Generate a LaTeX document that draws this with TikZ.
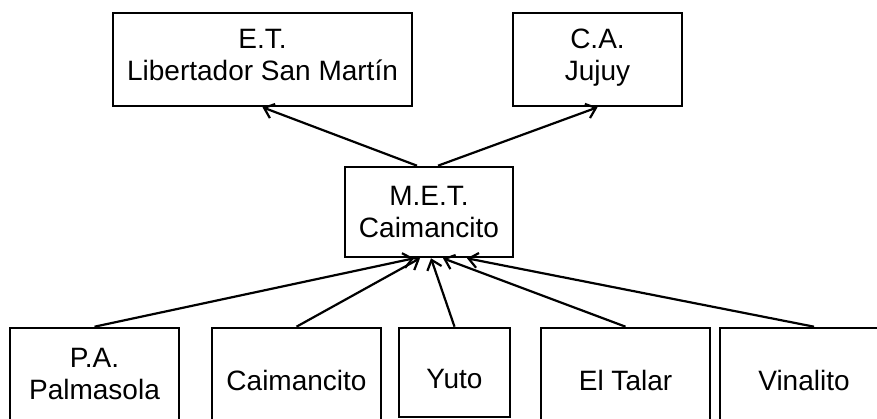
\documentclass[tikz,border=0pt]{standalone}
\usepackage{fontspec}
\setmainfont{Liberation Sans}
\usetikzlibrary{positioning, arrows.meta}

\tikzset{
  box/.style = {draw, line width=2.6pt, inner sep=0pt, align=center,
                font=\fontsize{28}{32}\selectfont},
  onerow/.style = {text height=32pt, text depth=0pt},
  toprow/.style = {text depth=9pt},
  link/.style = {line width=2.2pt, -{Straight Barb[length=9pt,width=15pt]}},
}

\begin{document}
\begin{tikzpicture}[x=1pt, y=-1pt]
  \useasboundingbox (0,0) rectangle (877,419);
  \clip (0,0) rectangle (877,419);

  % middle and top row
  \node[box, minimum width=168pt, minimum height=90pt] (met) at (429,212) {M.E.T.\\Caimancito};
  \node[box, toprow, minimum width=299pt, minimum height=93pt] (et) at (262.5,59.5) {E.T.\\Libertador San Martín};
  \node[box, toprow, minimum width=169pt, minimum height=93pt, right=98.4pt of et] (ca) {C.A.\\Jujuy};

  % bottom row
  \node[box, minimum width=169pt, minimum height=92pt] (pa) at (94.5,374) {P.A.\\Palmasola};
  \node[box, onerow, minimum width=169pt, minimum height=92pt, right=30.4pt of pa] (caim) {Caimancito};
  \node[box, onerow, minimum width=111pt, minimum height=89pt,
        right=15.4pt of caim.north east, anchor=north west] (yuto) {Yuto};
  \node[box, onerow, minimum width=169pt, minimum height=92pt,
        right=28.4pt of yuto.north east, anchor=north west] (talar) {El Talar};
  \node[box, onerow, minimum width=168pt, minimum height=92pt, right=7.4pt of talar] (vina) {Vinalito};

  \draw[link] ([xshift=-12pt]met.north) -- (et.south);
  \draw[link] ([xshift=9pt]met.north) -- (ca.south);

  \draw[link] (pa.north) -- ([xshift=-15pt]met.south);
  \draw[link] (caim.north) -- ([xshift=-9pt]met.south);
  \draw[link] (yuto.north) -- ([xshift=2pt]met.south);
  \draw[link] (talar.north) -- ([xshift=14pt]met.south);
  \draw[link] ([xshift=10pt]vina.north) -- ([xshift=38pt]met.south);
\end{tikzpicture}
\end{document}
